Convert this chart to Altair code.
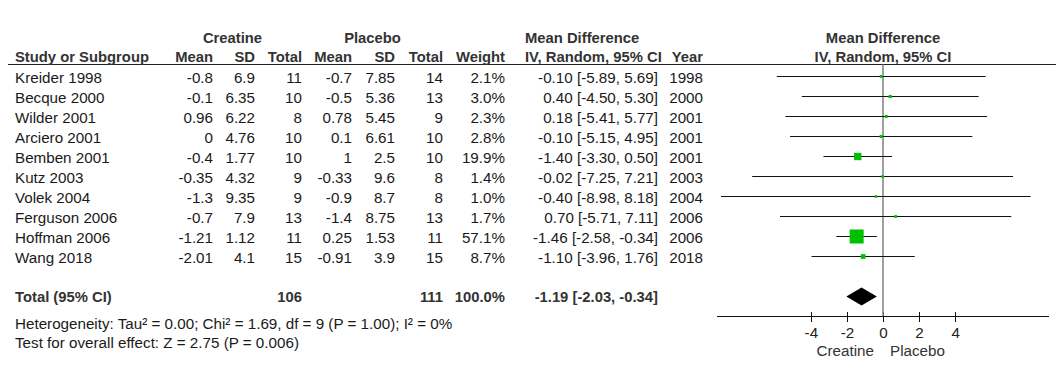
import altair as alt
import pandas as pd

# ---------------- data ----------------
studies = ["Kreider 1998", "Becque 2000", "Wilder 2001", "Arciero 2001", "Bemben 2001",
           "Kutz 2003", "Volek 2004", "Ferguson 2006", "Hoffman 2006", "Wang 2018"]
cre_mean = [-0.8, -0.1, 0.96, 0, -0.4, -0.35, -1.3, -0.7, -1.21, -2.01]
cre_sd = [6.9, 6.35, 6.22, 4.76, 1.77, 4.32, 9.35, 7.9, 1.12, 4.1]
cre_n = [11, 10, 8, 10, 10, 9, 9, 13, 11, 15]
pla_mean = [-0.7, -0.5, 0.78, 0.1, 1, -0.33, -0.9, -1.4, 0.25, -0.91]
pla_sd = [7.85, 5.36, 5.45, 6.61, 2.5, 9.6, 8.7, 8.75, 1.53, 3.9]
pla_n = [14, 13, 9, 10, 10, 8, 8, 13, 11, 15]
weight = [2.1, 3.0, 2.3, 2.8, 19.9, 1.4, 1.0, 1.7, 57.1, 8.7]
md = [-0.10, 0.40, 0.18, -0.10, -1.40, -0.02, -0.40, 0.70, -1.46, -1.10]
ci_low = [-5.89, -4.50, -5.41, -5.15, -3.30, -7.25, -8.98, -5.71, -2.58, -3.96]
ci_high = [5.69, 5.30, 5.77, 4.95, 0.50, 7.21, 8.18, 7.11, -0.34, 1.76]
years = [1998, 2000, 2001, 2001, 2001, 2003, 2004, 2006, 2006, 2018]

total_cre_n = 106
total_pla_n = 111
total_weight = 100.0
total_md = -1.19
total_low = -2.03
total_high = -0.34
heterogeneity = "Heterogeneity: Tau² = 0.00; Chi² = 1.69, df = 9 (P = 1.00); I² = 0%"
overall = "Test for overall effect: Z = 2.75 (P = 0.006)"
axis_ticks = [-4, -2, 0, 2, 4]
axis_extent = [-9.2, 9.2]

# ---------------- layout (rows in row units, x in px) ----------------
W, H = 1048, 362
ROW0, STEP = 68.5, 20.0
R_HEAD1, R_HEAD2, R_LINE = -1.95, -1.025, -0.6
R_TOTAL, R_AXIS = 11, 12
R_HET, R_TEST, R_SIDES = 12.275, 13.225, 13.625
DIAMOND_HALF = 0.45
FONT = "Liberation Sans"
FS = 15.2
FS_BOLD = 14.8
TXT = "#1a1a1a"
HDR = "#333333"

yscale = alt.Scale(domain=[-ROW0 / STEP, (H - ROW0) / STEP], reverse=True, nice=False, zero=False)
xscale = alt.Scale(domain=axis_extent, range=[709, 1041], nice=False, zero=False)
xaxis = alt.Axis(values=axis_ticks, domain=False, grid=False, tickSize=10, tickColor="#111",
                 tickWidth=1, labelFont=FONT, labelFontSize=FS, labelColor="#222",
                 labelPadding=4, offset=-58.5, title=None, labelExpr="'' + datum.value",
                 labelFlush=False, labelOverlap=False)

def fmt(v):
    return f"{v:g}"

rows = pd.DataFrame({
    "row": list(range(len(studies))),
    "study": studies,
    "cm": [fmt(v) for v in cre_mean],
    "csd": [fmt(v) for v in cre_sd],
    "cn": [str(v) for v in cre_n],
    "pm": [fmt(v) for v in pla_mean],
    "psd": [fmt(v) for v in pla_sd],
    "pn": [str(v) for v in pla_n],
    "w": [f"{v:.1f}%" for v in weight],
    "w_num": weight,
    "ci": [f"{m:.2f} [{l:.2f}, {h:.2f}]" for m, l, h in zip(md, ci_low, ci_high)],
    "year": [str(y) for y in years],
    "md": md,
    "lo": ci_low,
    "hi": ci_high,
})

Y = alt.Y("row:Q", scale=yscale, axis=None)

def text_layer(df, field, xpx, align="right", bold=False, color=TXT):
    return alt.Chart(df).mark_text(
        align=align, baseline="middle", dy=1.5, font=FONT,
        fontSize=FS_BOLD if bold else FS,
        fontWeight="bold" if bold else "normal", color=color
    ).encode(x=alt.value(xpx), y=Y, text=alt.Text(f"{field}:N"))

layers = []

# header underline
hdr_line = pd.DataFrame({"row": [R_LINE]})
layers.append(alt.Chart(hdr_line).mark_rule(color="#222", strokeWidth=1.2).encode(
    x=alt.value(-3), x2=alt.value(W), y=Y))

# zero line
zero = pd.DataFrame({"x": [0], "row": [R_LINE], "row2": [R_AXIS]})
layers.append(alt.Chart(zero).mark_rule(color="#808080", strokeWidth=1.5).encode(
    x=alt.X("x:Q", scale=xscale, axis=xaxis), y=Y, y2="row2:Q"))

# axis line
axl = pd.DataFrame({"x": [axis_extent[0]], "x2": [axis_extent[1]], "row": [R_AXIS]})
layers.append(alt.Chart(axl).mark_rule(color="#111", strokeWidth=1).encode(
    x=alt.X("x:Q", scale=xscale, axis=xaxis), x2="x2:Q", y=Y))

# CI lines
layers.append(alt.Chart(rows).mark_rule(color="#111", strokeWidth=1).encode(
    x=alt.X("lo:Q", scale=xscale, axis=xaxis), x2="hi:Q", y=Y))

# squares
layers.append(alt.Chart(rows).mark_point(shape="square", filled=True, opacity=1,
                                         color="#00c000", strokeWidth=0).encode(
    x=alt.X("md:Q", scale=xscale, axis=xaxis), y=Y,
    size=alt.Size("w_num:Q", scale=alt.Scale(type="pow", exponent=1.3,
                                             domain=[0, max(weight)], range=[6, 196]),
                  legend=None)))

# diamond
dia = pd.DataFrame({
    "x": [total_low, total_md, total_high],
    "row": [R_TOTAL, R_TOTAL - DIAMOND_HALF, R_TOTAL],
    "row2": [R_TOTAL, R_TOTAL + DIAMOND_HALF, R_TOTAL],
})
layers.append(alt.Chart(dia).mark_area(color="black", opacity=1, interpolate="linear").encode(
    x=alt.X("x:Q", scale=xscale, axis=xaxis), y=Y, y2="row2:Q"))

# table columns
cols = [("study", 7, "left"), ("cm", 205, "right"), ("csd", 247, "right"), ("cn", 294, "right"),
        ("pm", 344, "right"), ("psd", 387, "right"), ("pn", 435, "right"), ("w", 497, "right"),
        ("ci", 650, "right"), ("year", 695, "right")]
for f, xp, al in cols:
    layers.append(text_layer(rows, f, xp, al))

# headers
def label(txt, row, xpx, align, bold=True, color=HDR):
    df = pd.DataFrame({"row": [row], "t": [txt]})
    return text_layer(df, "t", xpx, align, bold, color)

layers += [
    label("Creatine", R_HEAD1, 224.5, "center"),
    label("Placebo", R_HEAD1, 364.5, "center"),
    label("Mean Difference", R_HEAD1, 517, "left"),
    label("Study or Subgroup", R_HEAD2, 7, "left"),
    label("Mean", R_HEAD2, 205, "right"),
    label("SD", R_HEAD2, 247, "right"),
    label("Total", R_HEAD2, 294, "right"),
    label("Mean", R_HEAD2, 344, "right"),
    label("SD", R_HEAD2, 387, "right"),
    label("Total", R_HEAD2, 435, "right"),
    label("Weight", R_HEAD2, 497, "right"),
    label("IV, Random, 95% CI", R_HEAD2, 517, "left"),
    label("Year", R_HEAD2, 695, "right"),
    label("Mean Difference", R_HEAD1, 875, "center"),
    label("IV, Random, 95% CI", R_HEAD2, 875, "center"),
    # totals
    label("Total (95% CI)", R_TOTAL, 7, "left"),
    label(str(total_cre_n), R_TOTAL, 294, "right"),
    label(str(total_pla_n), R_TOTAL, 435, "right"),
    label(f"{total_weight:.1f}%", R_TOTAL, 497, "right"),
    label(f"{total_md:.2f} [{total_low:.2f}, {total_high:.2f}]", R_TOTAL, 650, "right"),
    label(heterogeneity, R_HET, 7, "left", bold=False, color=TXT),
    label(overall, R_TEST, 7, "left", bold=False, color=TXT),
    label("Creatine", R_SIDES, 866, "right", bold=False, color="#333"),
    label("Placebo", R_SIDES, 882, "left", bold=False, color="#333"),
]

chart = alt.layer(*layers).properties(
    width=W, height=H, padding=0, autosize=alt.AutoSizeParams(type="none"),
    background="white"
).configure_view(stroke=None)

chart.save("out.html", embed_options={"renderer": "svg", "actions": False})
